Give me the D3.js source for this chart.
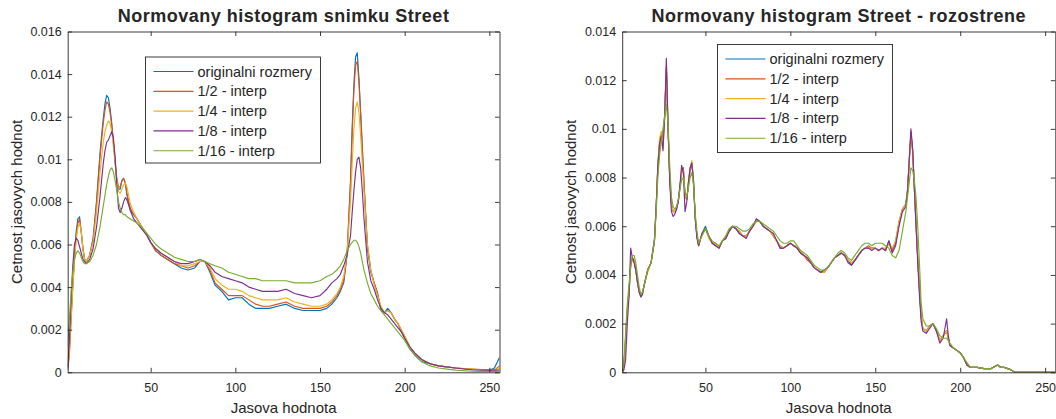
<!DOCTYPE html>
<html>
<head>
<meta charset="utf-8">
<script src="https://cdn.jsdelivr.net/npm/d3@7"></script>
<style>
  body { margin: 0; background: #fff; }
  svg { display: block; }
  text { font-family: "Liberation Sans", Arial, Helvetica, sans-serif; fill: #262626; }
</style>
</head>
<body>
<svg id="chart" width="1056" height="419"></svg>
<script>
// ---- series labels ----
const seriesNames = ["originalni rozmery", "1/2 - interp", "1/4 - interp", "1/8 - interp", "1/16 - interp"];
const seriesColors = ["#0072BD", "#D95319", "#EDB120", "#7E2F8E", "#77AC30"];

// ---- axis ticks ----
const xTickLabels = ["50", "100", "150", "200", "250"];
const yTickLabelsA = ["0", "0.002", "0.004", "0.006", "0.008", "0.01", "0.012", "0.014", "0.016"];
const yTickLabelsB = ["0", "0.002", "0.004", "0.006", "0.008", "0.01", "0.012", "0.014"];

// ---- panel A: "Street" histograms, gray levels sampled ----
const levelsA = [
  1, 2, 3, 4, 5, 6, 7, 8, 9, 10,
  11, 12, 14, 16, 18, 20, 21, 22, 23, 24,
  25, 26, 27, 28, 29, 30, 31, 32, 33, 34,
  35, 36, 38, 40, 42, 45, 48, 50, 53, 56,
  60, 64, 68, 72, 76, 79, 82, 85, 88, 92,
  96, 100, 104, 108, 112, 116, 120, 125, 130, 135,
  140, 145, 150, 154, 157, 160, 162, 164, 166, 168,
  169, 170, 171, 172, 173, 174, 175, 176, 178, 180,
  182, 184, 186, 188, 190, 192, 194, 196, 198, 200,
  203, 206, 210, 215, 220, 230, 240, 250, 253, 256
];
const origA = [
  0.0002, 0.0012, 0.0028, 0.0042, 0.0055, 0.0066, 0.0072, 0.0073, 0.0066, 0.0058,
  0.0053, 0.0052, 0.0055, 0.0063, 0.0080, 0.0102, 0.0111, 0.0119, 0.0126, 0.0130,
  0.0129, 0.0124, 0.0117, 0.0108, 0.0099, 0.0090, 0.0086, 0.0086, 0.0090, 0.0091,
  0.0089, 0.0083, 0.0076, 0.0074, 0.0072, 0.0068, 0.0064, 0.0061, 0.0057, 0.0055,
  0.0053, 0.0051, 0.0049, 0.0048, 0.0049, 0.0052, 0.0052, 0.0047, 0.0041, 0.0038,
  0.0034, 0.0035, 0.0035, 0.0032, 0.0030, 0.0030, 0.0030, 0.0031, 0.0032, 0.0030,
  0.0029, 0.0029, 0.0029, 0.0030, 0.0032, 0.0035, 0.0038, 0.0042, 0.0055, 0.0090,
  0.0115, 0.0135, 0.0148, 0.0150, 0.0138, 0.0122, 0.0105, 0.0088, 0.0058, 0.0047,
  0.0042, 0.0037, 0.0029, 0.0028, 0.0030, 0.0028, 0.0025, 0.0023, 0.0019, 0.0016,
  0.0011, 0.0008, 0.0005, 0.0004, 0.0003, 0.0002, 0.00012, 0.0001, 0.0002, 0.0007
];
const halfA = [
  0.0001, 0.0008, 0.0024, 0.0040, 0.0053, 0.0064, 0.0070, 0.0072, 0.0066, 0.0058,
  0.0053, 0.0052, 0.0055, 0.0062, 0.0079, 0.0100, 0.0109, 0.0117, 0.0123, 0.0127,
  0.0126, 0.0122, 0.0116, 0.0108, 0.0099, 0.0091, 0.0087, 0.0087, 0.0090, 0.0091,
  0.0089, 0.0084, 0.0077, 0.0074, 0.0072, 0.0068, 0.0064, 0.0061, 0.0057, 0.0055,
  0.0053, 0.0051, 0.0050, 0.0049, 0.0050, 0.0052, 0.0052, 0.0048, 0.0042, 0.0039,
  0.0036, 0.0036, 0.0036, 0.0034, 0.0032, 0.0031, 0.0031, 0.0032, 0.0033, 0.0031,
  0.0030, 0.0030, 0.0030, 0.0031, 0.0033, 0.0036, 0.0039, 0.0043, 0.0056, 0.0088,
  0.0112, 0.0132, 0.0144, 0.0146, 0.0136, 0.0121, 0.0105, 0.0089, 0.0060, 0.0048,
  0.0042, 0.0037, 0.0030, 0.0028, 0.0029, 0.0028, 0.0025, 0.0023, 0.0020, 0.0017,
  0.0012, 0.0009, 0.0006, 0.0004, 0.0003, 0.0002, 0.00015, 0.0001, 0.0001, 0.0003
];
const quarterA = [
  0.0002, 0.0010, 0.0025, 0.0040, 0.0052, 0.0062, 0.0068, 0.0070, 0.0066, 0.0058,
  0.0053, 0.0052, 0.0055, 0.0061, 0.0075, 0.0093, 0.0101, 0.0108, 0.0113, 0.0116,
  0.0118, 0.0117, 0.0113, 0.0106, 0.0098, 0.0090, 0.0085, 0.0084, 0.0086, 0.0088,
  0.0089, 0.0087, 0.0079, 0.0075, 0.0072, 0.0068, 0.0064, 0.0061, 0.0058, 0.0056,
  0.0054, 0.0052, 0.0050, 0.0050, 0.0051, 0.0052, 0.0052, 0.0049, 0.0044, 0.0041,
  0.0039, 0.0039, 0.0038, 0.0036, 0.0035, 0.0034, 0.0034, 0.0034, 0.0035, 0.0033,
  0.0032, 0.0031, 0.0031, 0.0032, 0.0034, 0.0037, 0.0040, 0.0045, 0.0056, 0.0080,
  0.0098, 0.0114, 0.0124, 0.0127, 0.0122, 0.0111, 0.0098, 0.0085, 0.0060, 0.0048,
  0.0041, 0.0036, 0.0031, 0.0028, 0.0029, 0.0028, 0.0025, 0.0023, 0.0020, 0.0017,
  0.0012, 0.0009, 0.0006, 0.0004, 0.0003, 0.0002, 0.00015, 0.0001, 0.0001, 0.0002
];
const eighthA = [
  0.0003, 0.0015, 0.0035, 0.0050, 0.0060, 0.0063, 0.0062, 0.0059, 0.0056, 0.0053,
  0.0052, 0.0051, 0.0053, 0.0058, 0.0068, 0.0082, 0.0090, 0.0098, 0.0104, 0.0108,
  0.0109, 0.0111, 0.0113, 0.0110, 0.0101, 0.0088, 0.0077, 0.0075, 0.0077, 0.0080,
  0.0082, 0.0081, 0.0076, 0.0072, 0.0070, 0.0067, 0.0064, 0.0061, 0.0058, 0.0056,
  0.0054, 0.0052, 0.0051, 0.0051, 0.0052, 0.0053, 0.0052, 0.0050, 0.0047, 0.0045,
  0.0044, 0.0043, 0.0042, 0.0040, 0.0039, 0.0038, 0.0038, 0.0038, 0.0039, 0.0037,
  0.0036, 0.0035, 0.0036, 0.0039, 0.0042, 0.0044, 0.0046, 0.0050, 0.0055, 0.0064,
  0.0075, 0.0085, 0.0094, 0.0100, 0.0101, 0.0096, 0.0085, 0.0072, 0.0052, 0.0043,
  0.0039, 0.0034, 0.0030, 0.0028, 0.0027, 0.0025, 0.0023, 0.0021, 0.0019, 0.0016,
  0.0012, 0.0009, 0.0006, 0.0004, 0.0003, 0.0002, 0.00012, 0.0001, 0.0001, 0.0001
];
const sixteenthA = [
  0.0012, 0.0025, 0.0038, 0.0047, 0.0053, 0.0056, 0.0057, 0.0056, 0.0054, 0.0052,
  0.0051, 0.0051, 0.0052, 0.0055, 0.0060, 0.0068, 0.0073, 0.0078, 0.0083, 0.0088,
  0.0092, 0.0095, 0.0096, 0.0094, 0.0090, 0.0085, 0.0080, 0.0077, 0.0075, 0.0074,
  0.0074, 0.0073, 0.0072, 0.0071, 0.0070, 0.0068, 0.0065, 0.0063, 0.0060, 0.0058,
  0.0056, 0.0054, 0.0053, 0.0052, 0.0052, 0.0053, 0.0052, 0.0051, 0.0050, 0.0049,
  0.0047, 0.0046, 0.0045, 0.0044, 0.0044, 0.0043, 0.0043, 0.0043, 0.0043, 0.0042,
  0.0042, 0.0042, 0.0043, 0.0045, 0.0046, 0.0048, 0.0050, 0.0053, 0.0057, 0.0060,
  0.0061, 0.0062, 0.0062, 0.0061, 0.0059, 0.0056, 0.0052, 0.0048, 0.0042, 0.0037,
  0.0034, 0.0031, 0.0029, 0.0027, 0.0025, 0.0023, 0.0021, 0.0019, 0.0017, 0.0015,
  0.0011, 0.0008, 0.0005, 0.0003, 0.0002, 0.0001, 0.00005, 0.00003, 0.00003, 0.00005
];

// ---- panel B: "Street - rozostrene" histograms ----
const levelsB = [
  1, 2, 3, 4, 5, 6, 7, 8, 9, 10,
  11, 12, 13, 14, 16, 18, 20, 21, 22, 23,
  24, 25, 26, 27, 28, 29, 30, 31, 32, 33,
  34, 35, 36, 37, 38, 39, 40, 41, 42, 43,
  44, 45, 46, 48, 50, 52, 54, 56, 58, 60,
  62, 64, 66, 68, 70, 72, 74, 76, 78, 80,
  82, 84, 86, 88, 90, 92, 94, 96, 98, 100,
  102, 104, 106, 108, 110, 112, 114, 116, 118, 120,
  122, 124, 126, 128, 130, 132, 134, 136, 138, 140,
  142, 144, 146, 148, 150, 152, 154, 156, 158, 160,
  162, 164, 166, 168, 169, 170, 171, 172, 173, 174,
  175, 176, 177, 178, 180, 182, 184, 186, 188, 190,
  191, 192, 193, 194, 196, 198, 200, 202, 204, 206,
  210, 214, 218, 222, 224, 226, 228, 230, 232, 256
];
const origB = [
  0.0000, 0.0003, 0.0014, 0.0026, 0.0033, 0.0045, 0.0047, 0.0046, 0.0042, 0.0037,
  0.0033, 0.0031, 0.0033, 0.0036, 0.0042, 0.0045, 0.0055, 0.0068, 0.0084, 0.0093,
  0.0098, 0.0096, 0.0106, 0.0125, 0.0100, 0.0080, 0.0069, 0.0066, 0.0066, 0.0067,
  0.0070, 0.0076, 0.0082, 0.0084, 0.0073, 0.0071, 0.0077, 0.0083, 0.0086, 0.0079,
  0.0064, 0.0056, 0.0052, 0.0057, 0.0060, 0.0056, 0.0053, 0.0052, 0.0051, 0.0054,
  0.0055, 0.0058, 0.0060, 0.0059, 0.0057, 0.0056, 0.0056, 0.0058, 0.0060, 0.0063,
  0.0062, 0.0060, 0.0059, 0.0058, 0.0056, 0.0054, 0.0051, 0.0051, 0.0052, 0.0053,
  0.0052, 0.0051, 0.0049, 0.0048, 0.0047, 0.0045, 0.0043, 0.0042, 0.0041, 0.0042,
  0.0043, 0.0045, 0.0047, 0.0048, 0.0049, 0.0048, 0.0046, 0.0044, 0.0046, 0.0048,
  0.0050, 0.0051, 0.0051, 0.0051, 0.0051, 0.0050, 0.0051, 0.0050, 0.0054, 0.0050,
  0.0053, 0.0061, 0.0067, 0.0069, 0.0075, 0.0087, 0.0098, 0.0091, 0.0076, 0.0061,
  0.0047, 0.0034, 0.0023, 0.0018, 0.0017, 0.0019, 0.0020, 0.0017, 0.0013, 0.0015,
  0.0016, 0.0017, 0.0014, 0.0011, 0.0010, 0.0009, 0.0008, 0.0006, 0.0003, 0.0002,
  0.0002, 0.00015, 0.00015, 0.0003, 0.0002, 0.0002, 0.00015, 0.0001, 0.0000, 0.0000
];
const halfB = [
  0.0000, 0.0002, 0.0013, 0.0025, 0.0032, 0.0044, 0.0047, 0.0046, 0.0042, 0.0037,
  0.0033, 0.0032, 0.0033, 0.0036, 0.0042, 0.0045, 0.0054, 0.0068, 0.0085, 0.0094,
  0.0098, 0.0095, 0.0105, 0.0126, 0.0100, 0.0079, 0.0069, 0.0066, 0.0066, 0.0068,
  0.0070, 0.0076, 0.0083, 0.0084, 0.0072, 0.0071, 0.0078, 0.0084, 0.0086, 0.0078,
  0.0063, 0.0056, 0.0052, 0.0057, 0.0059, 0.0056, 0.0053, 0.0053, 0.0051, 0.0054,
  0.0056, 0.0058, 0.0060, 0.0059, 0.0058, 0.0056, 0.0056, 0.0058, 0.0060, 0.0062,
  0.0062, 0.0060, 0.0059, 0.0058, 0.0056, 0.0054, 0.0052, 0.0051, 0.0052, 0.0053,
  0.0052, 0.0051, 0.0049, 0.0048, 0.0046, 0.0045, 0.0043, 0.0042, 0.0041, 0.0041,
  0.0043, 0.0045, 0.0047, 0.0048, 0.0049, 0.0048, 0.0046, 0.0045, 0.0046, 0.0048,
  0.0050, 0.0051, 0.0052, 0.0051, 0.0051, 0.0050, 0.0051, 0.0050, 0.0053, 0.0050,
  0.0054, 0.0062, 0.0067, 0.0069, 0.0075, 0.0087, 0.0099, 0.0091, 0.0076, 0.0061,
  0.0047, 0.0034, 0.0023, 0.0018, 0.0017, 0.0019, 0.0020, 0.0017, 0.0013, 0.0015,
  0.0016, 0.0017, 0.0014, 0.0011, 0.0010, 0.0009, 0.0008, 0.0006, 0.0003, 0.0002,
  0.0002, 0.00015, 0.00015, 0.0003, 0.0002, 0.0002, 0.00015, 0.0001, 0.0000, 0.0000
];
const quarterB = [
  0.0000, 0.0003, 0.0014, 0.0025, 0.0032, 0.0044, 0.0046, 0.0046, 0.0042, 0.0037,
  0.0033, 0.0032, 0.0033, 0.0036, 0.0041, 0.0045, 0.0054, 0.0068, 0.0086, 0.0096,
  0.0099, 0.0092, 0.0104, 0.0125, 0.0101, 0.0080, 0.0069, 0.0066, 0.0066, 0.0068,
  0.0071, 0.0076, 0.0082, 0.0083, 0.0073, 0.0071, 0.0078, 0.0084, 0.0087, 0.0078,
  0.0063, 0.0056, 0.0052, 0.0057, 0.0059, 0.0055, 0.0053, 0.0053, 0.0051, 0.0054,
  0.0056, 0.0059, 0.0060, 0.0059, 0.0058, 0.0056, 0.0056, 0.0058, 0.0060, 0.0062,
  0.0062, 0.0060, 0.0059, 0.0058, 0.0056, 0.0054, 0.0052, 0.0051, 0.0052, 0.0053,
  0.0052, 0.0052, 0.0050, 0.0048, 0.0047, 0.0045, 0.0043, 0.0042, 0.0041, 0.0041,
  0.0043, 0.0045, 0.0047, 0.0048, 0.0049, 0.0048, 0.0046, 0.0045, 0.0046, 0.0048,
  0.0050, 0.0051, 0.0051, 0.0051, 0.0051, 0.0050, 0.0051, 0.0051, 0.0053, 0.0051,
  0.0054, 0.0062, 0.0067, 0.0069, 0.0074, 0.0086, 0.0098, 0.0091, 0.0076, 0.0061,
  0.0047, 0.0034, 0.0023, 0.0018, 0.0017, 0.0019, 0.0020, 0.0017, 0.0013, 0.0015,
  0.0016, 0.0017, 0.0014, 0.0011, 0.0010, 0.0009, 0.0008, 0.0006, 0.0003, 0.0002,
  0.0002, 0.00015, 0.00015, 0.0003, 0.0002, 0.0002, 0.00015, 0.0001, 0.0000, 0.0000
];
const eighthB = [
  0.0000, 0.0001, 0.0005, 0.0020, 0.0031, 0.0051, 0.0047, 0.0045, 0.0042, 0.0037,
  0.0033, 0.0031, 0.0032, 0.0036, 0.0042, 0.0045, 0.0054, 0.0068, 0.0085, 0.0094,
  0.0097, 0.0091, 0.0105, 0.0129, 0.0101, 0.0078, 0.0066, 0.0064, 0.0065, 0.0067,
  0.0070, 0.0077, 0.0085, 0.0082, 0.0066, 0.0070, 0.0078, 0.0084, 0.0086, 0.0078,
  0.0063, 0.0055, 0.0052, 0.0057, 0.0059, 0.0056, 0.0053, 0.0052, 0.0051, 0.0054,
  0.0055, 0.0058, 0.0060, 0.0059, 0.0057, 0.0056, 0.0055, 0.0058, 0.0060, 0.0063,
  0.0062, 0.0060, 0.0059, 0.0058, 0.0057, 0.0054, 0.0051, 0.0051, 0.0052, 0.0053,
  0.0052, 0.0051, 0.0049, 0.0048, 0.0047, 0.0045, 0.0043, 0.0042, 0.0041, 0.0042,
  0.0043, 0.0045, 0.0047, 0.0048, 0.0049, 0.0048, 0.0045, 0.0044, 0.0046, 0.0048,
  0.0050, 0.0051, 0.0051, 0.0050, 0.0051, 0.0050, 0.0051, 0.0050, 0.0054, 0.0049,
  0.0052, 0.0060, 0.0066, 0.0068, 0.0074, 0.0087, 0.0100, 0.0092, 0.0076, 0.0060,
  0.0045, 0.0032, 0.0021, 0.0017, 0.0016, 0.0018, 0.0020, 0.0017, 0.0012, 0.0014,
  0.0018, 0.0022, 0.0015, 0.0011, 0.0010, 0.0009, 0.0008, 0.0006, 0.0003, 0.0002,
  0.0002, 0.00015, 0.00015, 0.0003, 0.0002, 0.0002, 0.00015, 0.0001, 0.0000, 0.0000
];
const sixteenthB = [
  0.0000, 0.0004, 0.0016, 0.0028, 0.0036, 0.0043, 0.0048, 0.0048, 0.0045, 0.0040,
  0.0035, 0.0032, 0.0033, 0.0036, 0.0042, 0.0045, 0.0054, 0.0066, 0.0080, 0.0089,
  0.0095, 0.0100, 0.0105, 0.0110, 0.0102, 0.0085, 0.0072, 0.0068, 0.0067, 0.0068,
  0.0071, 0.0075, 0.0079, 0.0080, 0.0074, 0.0072, 0.0076, 0.0080, 0.0082, 0.0077,
  0.0065, 0.0058, 0.0053, 0.0056, 0.0059, 0.0056, 0.0054, 0.0053, 0.0052, 0.0054,
  0.0056, 0.0059, 0.0060, 0.0060, 0.0059, 0.0058, 0.0058, 0.0059, 0.0061, 0.0062,
  0.0062, 0.0061, 0.0060, 0.0059, 0.0058, 0.0056, 0.0054, 0.0053, 0.0053, 0.0054,
  0.0054, 0.0052, 0.0050, 0.0049, 0.0048, 0.0046, 0.0044, 0.0043, 0.0042, 0.0042,
  0.0043, 0.0045, 0.0047, 0.0049, 0.0050, 0.0049, 0.0047, 0.0046, 0.0048, 0.0050,
  0.0052, 0.0053, 0.0053, 0.0052, 0.0053, 0.0053, 0.0053, 0.0052, 0.0051, 0.0048,
  0.0047, 0.0050, 0.0058, 0.0066, 0.0072, 0.0078, 0.0084, 0.0083, 0.0079, 0.0072,
  0.0060, 0.0045, 0.0029, 0.0022, 0.0019, 0.0019, 0.0020, 0.0018, 0.0015, 0.0014,
  0.0014, 0.0014, 0.0013, 0.0012, 0.0010, 0.0009, 0.0008, 0.0006, 0.0004, 0.0002,
  0.0002, 0.00015, 0.00015, 0.0003, 0.0002, 0.0002, 0.00015, 0.0001, 0.0000, 0.0000
];

// ---- layout of the two panels ----
const panels = [
  {
    id: "a",
    title: "Normovany histogram snimku Street",
    levels: levelsA,
    series: [origA, halfA, quarterA, eighthA, sixteenthA],
    yTickLabels: yTickLabelsA,
    x0: 67.7, x1: 499.5,
    legend: { x: 145.5, y: 57, w: 175, h: 106 }
  },
  {
    id: "b",
    title: "Normovany histogram Street - rozostrene",
    levels: levelsB,
    series: [origB, halfB, quarterB, eighthB, sixteenthB],
    yTickLabels: yTickLabelsB,
    x0: 622.2, x1: 1055.3,
    legend: { x: 717.5, y: 44.5, w: 175, h: 108 }
  }
];

const plotTop = 31.5, plotBottom = 372.3;
const axisColor = "#262626";
const svg = d3.select("#chart");

panels.forEach(p => {
  const yTicks = p.yTickLabels.map(Number);
  const x = d3.scaleLinear().domain([1, 256]).range([p.x0, p.x1]);
  const y = d3.scaleLinear().domain([0, d3.max(yTicks)]).range([plotBottom, plotTop]);
  const g = svg.append("g");

  // clip region for the curves
  svg.append("clipPath").attr("id", "clip-" + p.id)
    .append("rect")
    .attr("x", p.x0).attr("y", plotTop)
    .attr("width", p.x1 - p.x0).attr("height", plotBottom - plotTop);

  // histogram curves
  const line = d3.line()
    .x((d, i) => x(p.levels[i]))
    .y(d => y(d));
  const curves = g.append("g").attr("clip-path", "url(#clip-" + p.id + ")");
  p.series.forEach((vals, k) => {
    curves.append("path")
      .attr("d", line(vals))
      .attr("fill", "none")
      .attr("stroke", seriesColors[k])
      .attr("stroke-width", 1.15)
      .attr("stroke-linejoin", "round");
  });

  // axes with inward ticks on all four sides
  const xTicks = xTickLabels.map(Number);
  const tick = 4.5;
  const styleAxis = sel => {
    sel.selectAll(".domain").attr("stroke", axisColor).attr("stroke-width", 0.9);
    sel.selectAll(".tick line").attr("stroke", axisColor).attr("stroke-width", 0.9);
    sel.selectAll(".tick text")
      .attr("fill", axisColor)
      .style("font-size", "12.5px")
      .style("font-family", '"Liberation Sans", Arial, sans-serif');
  };
  g.append("g").attr("transform", `translate(0,${plotBottom})`)
    .call(d3.axisBottom(x).tickValues(xTicks).tickFormat((d, i) => xTickLabels[i])
      .tickSizeInner(-tick).tickSizeOuter(0).tickPadding(10.5))
    .call(styleAxis);
  g.append("g").attr("transform", `translate(0,${plotTop})`)
    .call(d3.axisTop(x).tickValues(xTicks).tickFormat("").tickSizeInner(-tick).tickSizeOuter(0))
    .call(styleAxis);
  g.append("g").attr("transform", `translate(${p.x0},0)`)
    .call(d3.axisLeft(y).tickValues(yTicks).tickFormat((d, i) => p.yTickLabels[i])
      .tickSizeInner(-tick).tickSizeOuter(0).tickPadding(6))
    .call(styleAxis);
  g.append("g").attr("transform", `translate(${p.x1},0)`)
    .call(d3.axisRight(y).tickValues(yTicks).tickFormat("").tickSizeInner(-tick).tickSizeOuter(0))
    .call(styleAxis);

  // title and axis labels
  const cx = (p.x0 + p.x1) / 2;
  g.append("text")
    .attr("x", cx).attr("y", 21.5)
    .attr("text-anchor", "middle")
    .style("font-size", "18px").style("font-weight", "bold")
    .style("letter-spacing", "0.5px")
    .attr("fill", "#000")
    .text(p.title);
  g.append("text")
    .attr("x", cx).attr("y", 413)
    .attr("text-anchor", "middle")
    .style("font-size", "15px")
    .text("Jasova hodnota");
  g.append("text")
    .attr("transform", `translate(${p.x0 - 51},${(plotTop + plotBottom) / 2}) rotate(-90)`)
    .attr("text-anchor", "middle")
    .attr("dy", "0.35em")
    .style("font-size", "15px")
    .text("Cetnost jasovych hodnot");

  // legend
  const L = p.legend;
  const lg = g.append("g").attr("transform", `translate(${L.x},${L.y})`);
  lg.append("rect")
    .attr("width", L.w).attr("height", L.h)
    .attr("fill", "#fff").attr("stroke", axisColor).attr("stroke-width", 0.9);
  seriesNames.forEach((name, k) => {
    const ry = 14.5 + k * 19.8;
    lg.append("line")
      .attr("x1", 8).attr("x2", 48).attr("y1", ry).attr("y2", ry)
      .attr("stroke", seriesColors[k]).attr("stroke-width", 1.15);
    lg.append("text")
      .attr("x", 52).attr("y", ry).attr("dy", "0.35em")
      .style("font-size", "14.5px")
      .text(name);
  });
});
</script>
</body>
</html>
